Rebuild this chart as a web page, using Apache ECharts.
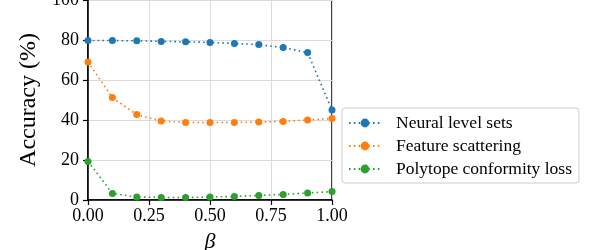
<!DOCTYPE html>
<html><head><meta charset="utf-8">
<script src="https://cdn.jsdelivr.net/npm/echarts@6/dist/echarts.min.js"></script>
<style>html,body{margin:0;padding:0;background:#fff}#c{width:598px;height:250px}</style>
</head><body><div id="c"></div>
<script>
const betas = [0, 0.1, 0.2, 0.3, 0.4, 0.5, 0.6, 0.7, 0.8, 0.9, 1.0];
const neuralLevelSets = [79.8, 79.7, 79.6, 79.3, 79.1, 78.8, 78.3, 77.7, 76.2, 73.7, 45.0];
const featureScattering = [69.0, 51.2, 42.7, 39.5, 38.8, 38.7, 38.8, 39.0, 39.3, 40.0, 40.7];
const polytopeConformity = [19.3, 3.3, 1.5, 1.3, 1.2, 1.5, 1.8, 2.3, 2.8, 3.5, 4.2];
const seriesNames = ['Neural level sets', 'Feature scattering', 'Polytope conformity loss'];
const colors = ['#1f77b4', '#ff7f0e', '#2ca02c'];
const xTicks = [0, 0.25, 0.5, 0.75, 1.0];
const yTicks = [0, 20, 40, 60, 80, 100];

const FONT = 'Liberation Serif';
const pair = (ys) => betas.map((b, i) => [b, ys[i]]);
const allSeries = [neuralLevelSets, featureScattering, polytopeConformity];

const chart = echarts.init(document.getElementById('c'), null, {renderer: 'canvas'});
chart.setOption({
  animation: false,
  backgroundColor: '#fff',
  grid: {left: 88, right: 266, top: 0, bottom: 50, containLabel: false, outerBoundsMode: 'none',
         show: true, borderColor: '#000', borderWidth: 1.5, backgroundColor: 'transparent'},
  xAxis: {
    type: 'value', min: 0, max: 1, interval: 0.25,
    name: 'β', nameLocation: 'middle', nameGap: 31,
    nameTextStyle: {fontFamily: FONT, fontSize: 22, fontStyle: 'italic', color: '#000'},
    axisLine: {show: true, onZero: false, lineStyle: {color: '#000', width: 1.5}},
    axisTick: {show: true, length: 5, lineStyle: {color: '#000', width: 1.2}},
    axisLabel: {fontFamily: FONT, fontSize: 18, color: '#000', margin: 7, formatter: v => xTicks.includes(v) ? v.toFixed(2) : ''},
    splitLine: {show: true, lineStyle: {color: '#dcdcdc', width: 1}}
  },
  yAxis: {
    type: 'value', min: 0, max: 100, interval: 20,
    name: 'Accuracy (%)', nameLocation: 'middle', nameGap: 47, nameRotate: 90,
    nameTextStyle: {fontFamily: FONT, fontSize: 24, color: '#000'},
    axisLine: {show: true, onZero: false, lineStyle: {color: '#000', width: 1.5}},
    axisTick: {show: true, length: 5, lineStyle: {color: '#000', width: 1.2}},
    axisLabel: {fontFamily: FONT, fontSize: 18, color: '#000', margin: 9, formatter: v => yTicks.includes(v) ? String(v) : ''},
    splitLine: {show: true, lineStyle: {color: '#dcdcdc', width: 1}}
  },
  legend: {
    orient: 'vertical', left: 342, top: 108,
    padding: [6, 7, 5, 6],
    itemWidth: 32, itemHeight: 11, itemGap: 5,
    borderColor: '#cccccc', borderWidth: 1, borderRadius: 3,
    backgroundColor: '#fff',
    textStyle: {fontFamily: FONT, fontSize: 17.5, color: '#000', padding: [0, 0, 0, 10], lineHeight: 16},
    data: seriesNames.map(n => ({name: n}))
  },
  series: allSeries.map((ys, i) => ({
    name: seriesNames[i], type: 'line', data: pair(ys),
    symbol: 'circle', symbolSize: 7,
    itemStyle: {color: colors[i]},
    lineStyle: {color: colors[i], width: 1.6, type: [1.6, 3.2]},
    z: 3 + i
  }))
});
</script></body></html>
